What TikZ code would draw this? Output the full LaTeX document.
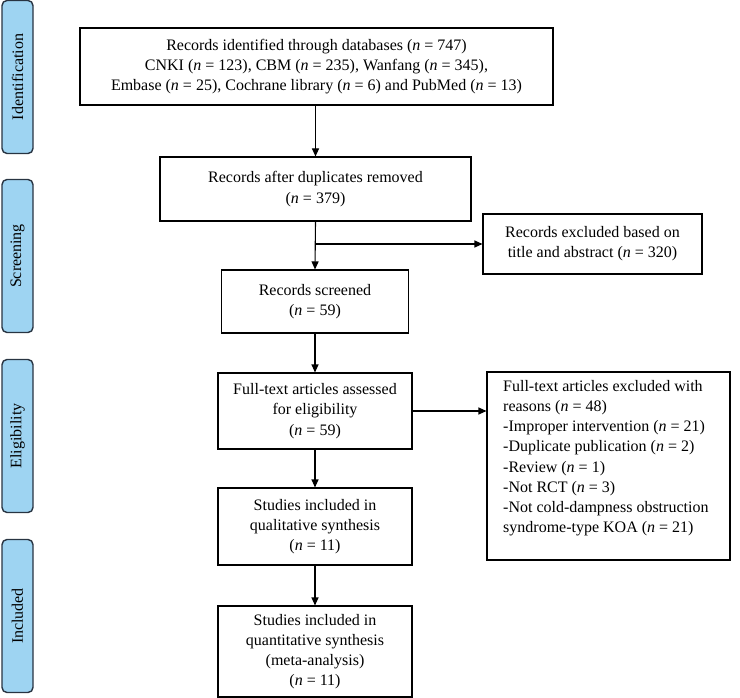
\documentclass[tikz,border=0pt]{standalone}
\usepackage{fontspec}
\setmainfont{Liberation Serif}
\usetikzlibrary{arrows.meta}
\definecolor{barfill}{RGB}{158,212,242}
\definecolor{barline}{RGB}{40,52,66}
\newcommand{\nn}{\textit{n}}
\begin{document}
\begin{tikzpicture}[x=1pt,y=-1pt,
  every node/.style={font=\fontsize{16}{20.2}\selectfont},
  box/.style={draw, line width=1.1pt, align=center, inner sep=0pt},
  bar/.style={draw=barline, fill=barfill, line width=1.4pt, rounded corners=5pt, minimum width=31pt, minimum height=153pt, inner sep=0pt},
  arr/.style={line width=1.1pt, -{Triangle[length=8pt,width=7pt]}}]
\useasboundingbox (0,0) rectangle (740,698);
% side bars
\node[bar] (b1) at (17.5,77) {};
\node[rotate=90] at (b1.center) {Identification};
\node[bar] (b2) at (17.5,256) {};
\node[rotate=90] at (b2.center) {Screening};
\node[bar] (b3) at (17.5,436) {};
\node[rotate=90] at (b3.center) {Eligibility};
\node[bar] (b4) at (17.5,616) {};
\node[rotate=90] at (b4.center) {Included};
% main boxes
\node[box, minimum width=473pt, minimum height=77pt] (n1) at (316.5,66.5)
  {Records identified through databases (\nn{} = 747)\\
   CNKI (\nn{} = 123), CBM (\nn{} = 235), Wanfang (\nn{} = 345),\\
   Embase (\nn{} = 25), Cochrane library (\nn{} = 6) and PubMed (\nn{} = 13)};
\node[box, minimum width=311pt, minimum height=64pt] (n2) at (315.5,189)
  {Records after duplicates removed\\(\nn{} = 379)};
\node[box, minimum width=187pt, minimum height=63pt] (n3) at (315,301.5)
  {Records screened\\(\nn{} = 59)};
\node[box, minimum width=219pt, minimum height=60pt] (x1) at (592.5,244)
  {Records excluded based on\\title and abstract (\nn{} = 320)};
\node[box, minimum width=194pt, minimum height=76pt] (n4) at (315,411)
  {Full-text articles assessed\\for eligibility\\(\nn{} = 59)};
\node[box, minimum width=243pt, minimum height=188pt] (x2) at (608.5,466) {};
\node[anchor=north west, align=left, inner sep=0pt] (x2t) at (503,380)
  {Full-text articles excluded with\\
   reasons (\nn{} = 48)\\
   -Improper intervention (\nn{} = 21)\\
   -Duplicate publication (\nn{} = 2)\\
   -Review (\nn{} = 1)\\
   -Not RCT (\nn{} = 3)\\
   -Not cold-dampness obstruction\\
   syndrome-type KOA (\nn{} = 21)};
\node[box, minimum width=194pt, minimum height=77pt] (n5) at (315,526.5)
  {Studies included in\\qualitative synthesis\\(\nn{} = 11)};
\node[box, minimum width=194pt, minimum height=91pt] (n6) at (315,651.5)
  {Studies included in\\quantitative synthesis\\(meta-analysis)\\(\nn{} = 11)};
% connectors
\coordinate (br) at (n2.south |- x1.west);
\draw[arr] (n1.south -| n2.south) -- (n2.north);
\draw[arr] (n2.south) -- (n3.north);
\draw[arr] (br) -- (x1.west);
\draw[arr] (n3.south) -- (n4.north);
\draw[arr] (n4.east) -- (n4.east -| x2.west);
\draw[arr] (n4.south) -- (n5.north);
\draw[arr] (n5.south) -- (n6.north);
\end{tikzpicture}
\end{document}
